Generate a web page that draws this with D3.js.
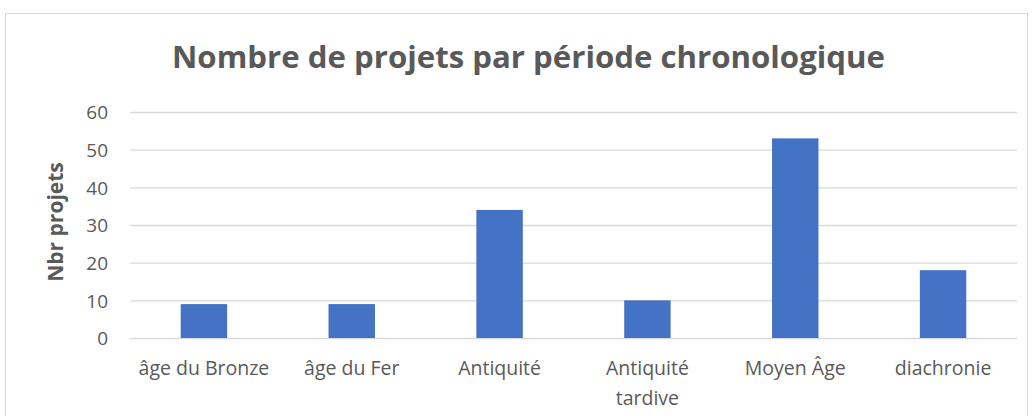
<!DOCTYPE html>
<html><head><meta charset="utf-8">
<script src="https://cdn.jsdelivr.net/npm/d3@7"></script>
<style>body{margin:0;background:#fff}svg{display:block}text{font-family:"Open Sans",sans-serif}</style>
</head><body><div id="c"></div>
<script>
const categories = ["âge du Bronze", "âge du Fer", "Antiquité", "Antiquité tardive", "Moyen Âge", "diachronie"];
const values = [9, 9, 34, 10, 53, 18];
const yTicks = [0, 10, 20, 30, 40, 50, 60];
const title = "Nombre de projets par période chronologique";
const yTitle = "Nbr projets";

const W = 1033, H = 416;
const m = {left: 130, right: 16, top: 112, bottom: 78};
const svg = d3.select("#c").append("svg").attr("width", W).attr("height", H);
svg.append("rect").attr("x", 5.5).attr("y", 13.5).attr("width", 1022).attr("height", 420)
  .attr("fill", "#fff").attr("stroke", "#d9d9d9");

const x = d3.scaleBand().domain(categories).range([m.left, W - m.right]).paddingInner(0.686).paddingOuter(0.343);
const y = d3.scaleLinear().domain([0, 60]).range([H - m.bottom, m.top]);

const g = svg.append("g");
const ya = g.append("g").attr("transform", `translate(${m.left},0)`)
  .call(d3.axisLeft(y).tickValues(yTicks).tickSize(-(W - m.right - m.left)).tickPadding(22));
ya.select(".domain").remove();
ya.selectAll(".tick line").attr("stroke", "#d9d9d9").attr("stroke-width", 1.3);
ya.selectAll(".tick text").attr("fill", "#595959").style("font-size", "19px").attr("dy", "0.36em");

g.selectAll("rect.bar").data(values).join("rect").attr("class", "bar")
  .attr("x", (d, i) => x(categories[i])).attr("width", x.bandwidth())
  .attr("y", d => y(d)).attr("height", d => y(0) - y(d)).attr("fill", "#4472c4");

const step = x.step();
const xa = g.append("g").attr("transform", `translate(0,${y(0)})`)
  .call(d3.axisBottom(x).tickSize(0).tickPadding(0));
xa.select(".domain").remove();
xa.selectAll(".tick text").attr("fill", "#595959").style("font-size", "19.5px").attr("dy", null).attr("y", 0)
  .each(function(d) {
    const t = d3.select(this); t.text(null);
    const words = d.split(" ");
    t.append("tspan").attr("x", 0).attr("y", 37).text(d);
    if (this.getComputedTextLength() > step - 4) {
      t.text(null);
      const lines = [words.slice(0, -1).join(" "), words[words.length - 1]];
      lines.forEach((l, i) => t.append("tspan").attr("x", 0).attr("y", 37 + i * 30).text(l));
    }
  });

const tt = svg.append("text").attr("x", 528.5).attr("y", 68)
  .attr("text-anchor", "middle").attr("fill", "#595959").style("font-size", "32px")
  .style("font-weight", "bold").text(title);
const tw = tt.node().getComputedTextLength();
tt.style("font-size", (32 * 713 / tw).toFixed(2) + "px");

svg.append("text").attr("transform", `translate(63,222) rotate(-90)`)
  .attr("text-anchor", "middle").attr("fill", "#595959").style("font-size", "21px")
  .style("font-weight", "bold").text(yTitle);
</script></body></html>
